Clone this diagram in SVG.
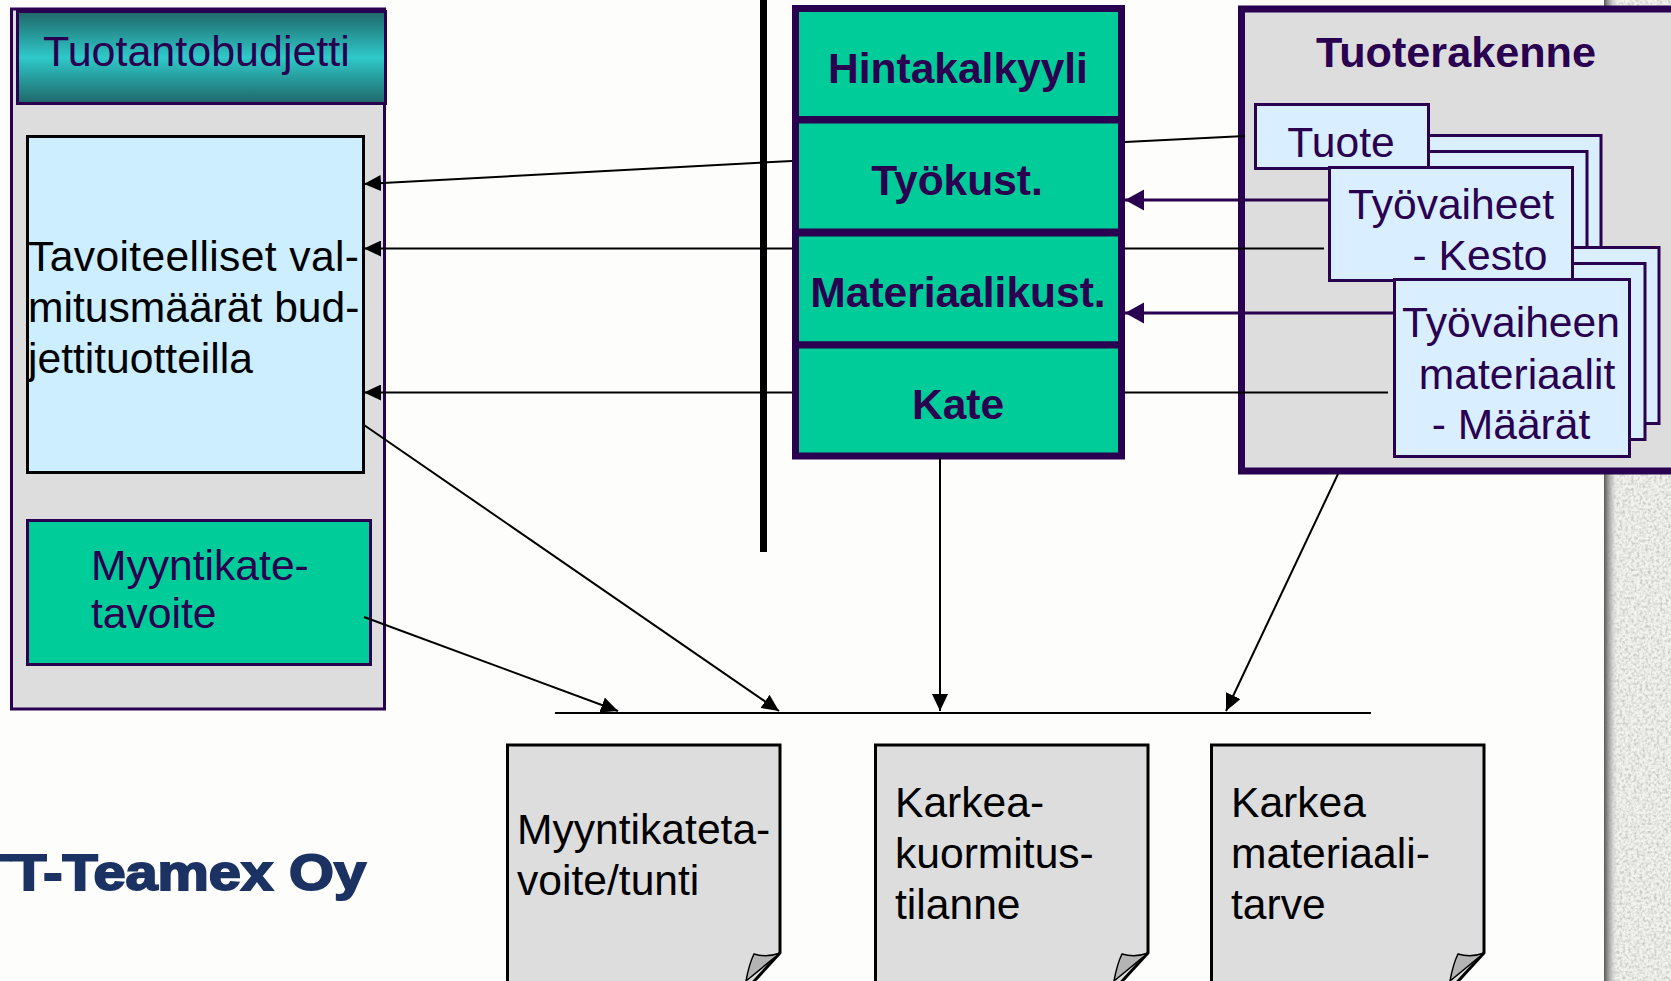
<svg xmlns="http://www.w3.org/2000/svg" width="1671" height="981" viewBox="0 0 1671 981">
<style>
text{font-family:"Liberation Sans",Arial,sans-serif;font-size:42.600px}
.p{fill:#2a0050}
.k{fill:#000}
.b{font-weight:bold;font-size:42.500px}
.panel{fill:#ddd;stroke:#2a0050}
.green{fill:#00cc99;stroke:#2a0050}
.pale{fill:#d9efff;stroke:#2a0050;stroke-width:3}
.doc{fill:#ddd;stroke:#000;stroke-width:3}
.fold{fill:#b4b4b4;stroke:#000;stroke-width:1.5}
.c{fill:none;stroke:#000;stroke-width:2}
.cp{fill:none;stroke:#2a0050;stroke-width:3}
</style>
<defs>
<linearGradient id="hdr" x1="0" y1="0" x2="0" y2="1">
<stop offset="0" stop-color="#1f6668"/><stop offset="0.5" stop-color="#2fc9c9"/><stop offset="1" stop-color="#1f6668"/>
</linearGradient>
<linearGradient id="shade" x1="0" y1="0" x2="1" y2="0">
<stop offset="0" stop-color="#555"/><stop offset="0.5" stop-color="#aaa" stop-opacity=".7"/><stop offset="1" stop-color="#eee" stop-opacity="0"/>
</linearGradient>
<filter id="noise" x="0" y="0" width="1" height="1">
<feTurbulence type="fractalNoise" baseFrequency="0.35" numOctaves="2" seed="4"/>
<feColorMatrix values="0 0 0 0 0.55 0 0 0 0 0.55 0 0 0 0 0.53 2.2 0 0 0 -0.85"/>
<feComposite in2="SourceGraphic" operator="over"/>
</filter>
<marker id="ak" markerUnits="userSpaceOnUse" markerWidth="18" markerHeight="16" refX="17" refY="8" orient="auto"><path d="M0 0L17 8L0 16Z" fill="#000"/></marker>
<marker id="ap" markerUnits="userSpaceOnUse" markerWidth="20" markerHeight="22" refX="19" refY="11" orient="auto"><path d="M0 0.500L19 11L0 21.500Z" fill="#2a0050"/></marker>
</defs>
<rect width="1671" height="981" fill="#fdfdfb"/>
<rect x="1606" y="0" width="65" height="981" fill="#f2f2ee" filter="url(#noise)"/>
<rect x="1604" y="0" width="14" height="981" fill="url(#shade)"/>
<rect x="760" y="0" width="7" height="552" fill="#000" id="divider"/>

<g id="tuotantobudjetti-panel"><rect class="panel" x="11.500" y="9" width="373" height="700" stroke-width="3"/></g>
<g id="tuotantobudjetti"><rect x="17.500" y="11.500" width="368" height="92" fill="url(#hdr)" stroke="#2a0050" stroke-width="3"/><text class="p" x="43" y="66" style="font-size:43px">Tuotantobudjetti</text></g>
<g id="tavoite"><rect x="27.500" y="136.500" width="336" height="336" fill="#cceeff" stroke="#000" stroke-width="3"/>
<text class="k" x="28" y="271" textLength="331">Tavoiteelliset val-</text><text class="k" x="28" y="322">mitusmäärät bud-</text><text class="k" x="28" y="373">jettituotteilla</text></g>
<g id="myyntikate"><rect x="27.500" y="520.500" width="343" height="144" fill="#00cc99" stroke="#2a0050" stroke-width="3"/>
<text class="p" x="91" y="580">Myyntikate-</text><text class="p" x="91" y="628">tavoite</text></g>

<g id="hintakalkyyli"><rect class="green" x="795.500" y="8.500" width="326" height="111" stroke-width="7"/><text class="p b" x="958" y="83" text-anchor="middle">Hintakalkyyli</text></g>
<g id="tyokust"><rect class="green" x="795.500" y="120" width="326" height="112" stroke-width="7"/><text class="p b" x="957" y="195" text-anchor="middle">Työkust.</text></g>
<g id="materiaalikust"><rect class="green" x="795.500" y="233" width="326" height="112" stroke-width="7"/><text class="p b" x="958" y="307" text-anchor="middle">Materiaalikust.</text></g>
<g id="kate"><rect class="green" x="795.500" y="345" width="326" height="111" stroke-width="7"/><text class="p b" x="958" y="419" text-anchor="middle">Kate</text></g>

<g id="tuoterakenne"><rect class="panel" x="1241.500" y="9" width="440" height="462" stroke-width="7"/><text class="p b" x="1456" y="67" text-anchor="middle" style="font-size:43.200px">Tuoterakenne</text></g>

<g id="connectors">
<path class="c" d="M792 161L364 184" marker-end="url(#ak)"/>
<path class="c" d="M792 248.500L364 248.500" marker-end="url(#ak)"/>
<path class="c" d="M792 392.500L364 392.500" marker-end="url(#ak)"/>
<path class="c" d="M1125 142L1245 136"/>
<path class="c" d="M1125 248.500L1324 248.500"/>
<path class="c" d="M1125 392.500L1388 392.500"/>
<path class="cp" d="M1329 200L1125 200" marker-end="url(#ap)"/>
<path class="cp" d="M1394 313L1125 313" marker-end="url(#ap)"/>
<path class="c" d="M555 713L1371 713"/>
<path class="c" d="M364 425L779 711" marker-end="url(#ak)"/>
<path class="c" d="M364 617L618 711" marker-end="url(#ak)"/>
<path class="c" d="M940 458L940 711" marker-end="url(#ak)"/>
<path class="c" d="M1338 474L1226 711" marker-end="url(#ak)"/>
</g>

<g id="tuote"><rect class="pale" x="1401" y="135.500" width="200" height="120"/><rect class="pale" x="1401" y="151.500" width="186" height="120"/><rect class="pale" x="1255.500" y="104.500" width="173" height="64"/><text class="p" x="1341" y="157" text-anchor="middle">Tuote</text></g>
<g id="tyovaiheet"><rect class="pale" x="1560" y="247.500" width="99" height="176"/><rect class="pale" x="1560" y="263.500" width="85" height="176"/><rect class="pale" x="1329.500" y="167.500" width="243" height="113"/><text class="p" x="1451" y="219" text-anchor="middle">Työvaiheet</text><text class="p" x="1480" y="270" text-anchor="middle">- Kesto</text></g>
<g id="materiaalit"><rect class="pale" x="1394.500" y="279.500" width="235" height="177"/><text class="p" x="1511" y="337" text-anchor="middle">Työvaiheen</text><text class="p" x="1517" y="389" text-anchor="middle">materiaalit</text><text class="p" x="1511" y="439" text-anchor="middle">- Määrät</text></g>

<g id="doc1"><path class="doc" d="M780 953V745H507.500V990H746Z"/><path class="fold" d="M746 981C748 970 750 962 754 954C764 957 772 956 780 953Z"/><text class="k" x="517" y="844">Myyntikateta-</text><text class="k" x="517" y="895">voite/tunti</text></g>
<g id="doc2"><path class="doc" d="M1148 953V745H875.500V990H1114Z"/><path class="fold" d="M1114 981C1116 970 1118 962 1122 954C1132 957 1140 956 1148 953Z"/><text class="k" x="895" y="817">Karkea-</text><text class="k" x="895" y="868">kuormitus-</text><text class="k" x="895" y="919">tilanne</text></g>
<g id="doc3"><path class="doc" d="M1484 953V745H1211.500V990H1450Z"/><path class="fold" d="M1450 981C1452 970 1454 962 1458 954C1468 957 1476 956 1484 953Z"/><text class="k" x="1231" y="817">Karkea</text><text class="k" x="1231" y="868">materiaali-</text><text class="k" x="1231" y="919">tarve</text></g>

<text x="-24" y="890" textLength="390" lengthAdjust="spacingAndGlyphs" style="font-size:50px;font-weight:bold;fill:#1b3263;stroke:#1b3263;stroke-width:2">TT-Teamex Oy</text>
</svg>
